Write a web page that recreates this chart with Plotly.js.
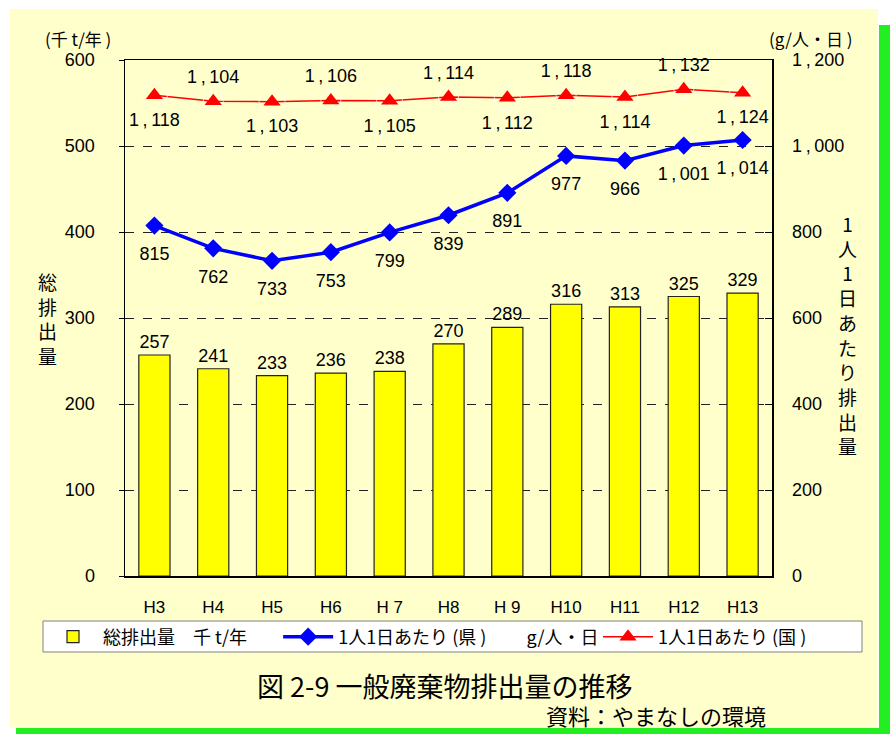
<!DOCTYPE html>
<html>
<head>
<meta charset="utf-8">
<script src="https://cdn.plot.ly/plotly-3.0.1.min.js"></script>
<style>html,body{margin:0;padding:0;background:#fff;}#chart{width:890px;height:734px;}</style>
</head>
<body>
<div id="chart"></div>
<script>
// ---- data ----
const years = ["H3", "H4", "H5", "H6", "H 7", "H8", "H 9", "H10", "H11", "H12", "H13"];
const totalKt = [257, 241, 233, 236, 238, 270, 289, 316, 313, 325, 329];
const perCapitaPref = [815, 762, 733, 753, 799, 839, 891, 977, 966, 1001, 1014];
const perCapitaNation = [1118, 1104, 1103, 1106, 1105, 1114, 1112, 1118, 1114, 1132, 1124];
const nationLabelPos = ["bottom center", "top center", "bottom center", "top center", "bottom center", "top center", "bottom center", "top center", "bottom center", "top center", "bottom center"];
const leftTicks = [0, 100, 200, 300, 400, 500, 600];
const rightTicks = [0, 200, 400, 600, 800, 1000, 1200];

// thousands formatter with the spaced comma seen in the reference
const fmt = v => {
  const s = String(v);
  return s.length > 3 ? s.slice(0, -3) + "\u2009,\u2009" + s.slice(-3) : s;
};

// ---- geometry helpers (pixel -> paper) ----
const W = 890, H = 734, L = 125, R = 772, T = 60, B = 576;
const px = X => (X - L) / (R - L);
const py = Y => (B - Y) / (B - T);

const FONT = "Liberation Sans, Arial, Noto Sans CJK JP, sans-serif";
const JFONT = "Noto Sans CJK JP, Liberation Sans, sans-serif";
const labelFont = {family: FONT, size: 18, color: "#000"};
const clear = "rgba(0,0,0,0)";

const traces = [
  {
    type: "bar", x: years, y: totalKt, name: "総排出量　千 t/年\u3000\u00a0\u00a0",
    marker: {color: "#FFFF00", line: {color: "#222222", width: 1.2}},
    width: 0.53,
    text: totalKt.map(String), textposition: "outside", cliponaxis: false,
    textfont: labelFont, hoverinfo: "skip",
    yaxis: "y", legend: "legend"
  },
  {
    type: "scatter", mode: "lines+markers", x: years, y: perCapitaPref,
    name: "1人1日あたり (県 )\u3000\u3000\u00a0g/人・日",
    line: {color: "#0000FF", width: 3.5},
    marker: {symbol: "diamond", size: 14, color: "#0000FF"},
    hoverinfo: "skip", yaxis: "y2", legend: "legend"
  },
  {
    type: "scatter", mode: "lines+markers", x: years, y: perCapitaNation,
    name: "1人1日あたり (国 )",
    line: {color: "#FF0000", width: 1.5},
    marker: {symbol: "triangle-up", size: 15, color: "#FF0000"},
    hoverinfo: "skip", yaxis: "y2", legend: "legend2"
  },
  // value labels (invisible markers give the label offset seen in the reference)
  {
    type: "scatter", mode: "markers+text", x: years, y: perCapitaPref, showlegend: false,
    marker: {size: 32, color: clear}, text: perCapitaPref.map(fmt),
    textposition: "bottom center", cliponaxis: false, textfont: labelFont,
    hoverinfo: "skip", yaxis: "y2"
  },
  {
    type: "scatter", mode: "markers+text", x: years, y: perCapitaNation, showlegend: false,
    marker: {size: nationLabelPos.map(p => p.indexOf("top") === 0 ? 20 : 26), color: clear},
    text: perCapitaNation.map(fmt),
    textposition: nationLabelPos, cliponaxis: false, textfont: labelFont,
    hoverinfo: "skip", yaxis: "y2"
  }
];

const ann = (text, X, Y, size, extra) => Object.assign({
  text: text, xref: "paper", yref: "paper", x: px(X), y: py(Y),
  xanchor: "center", yanchor: "middle", showarrow: false,
  font: {family: JFONT, size: size, color: "#000"}
}, extra || {});

const legendBase = {
  orientation: "h", xanchor: "left", y: py(637), yanchor: "middle",
  bgcolor: clear, borderwidth: 0,
  font: {family: JFONT, size: 18, color: "#000"},
  traceorder: "normal", itemwidth: 50
};

const layout = {
  width: W, height: H,
  margin: {l: L, r: W - R, t: T, b: H - B, pad: 0},
  paper_bgcolor: "#FFFFFF",
  plot_bgcolor: "#FFFFFF",
  font: {family: FONT, size: 17, color: "#000"},
  showlegend: true,
  xaxis: {
    type: "category", range: [-0.5, years.length - 0.5], autorange: false,
    showgrid: false, zeroline: false,
    showline: true, linecolor: "#000", linewidth: 1.5, mirror: true,
    ticks: "", ticklabelstandoff: 15,
    tickfont: {family: FONT, size: 17, color: "#000"}
  },
  yaxis: {
    range: [0, 600], autorange: false, tickvals: leftTicks, ticktext: leftTicks.map(String),
    showgrid: true, gridcolor: "#222", griddash: "dash", gridwidth: 1,
    zeroline: false, showline: true, linecolor: "#000", linewidth: 1.5, mirror: true,
    ticks: "outside", ticklen: 5, tickcolor: "#000", ticklabelstandoff: 20,
    tickfont: {family: FONT, size: 18, color: "#000"}
  },
  yaxis2: {
    overlaying: "y", side: "right", range: [0, 1200], autorange: false,
    tickvals: rightTicks, ticktext: rightTicks.map(fmt),
    showgrid: false, zeroline: false, showline: true, linecolor: "#000", linewidth: 1.5,
    ticks: "inside", ticklen: 7, tickcolor: "#000", ticklabelstandoff: 15,
    tickfont: {family: FONT, size: 18, color: "#000"}
  },
  legend: Object.assign({}, legendBase, {x: px(43)}),
  legend2: Object.assign({}, legendBase, {x: px(598)}),
  shapes: [
    {type: "rect", xref: "paper", yref: "paper", layer: "below",
     x0: px(10), x1: px(878), y0: py(728), y1: py(9),
     fillcolor: "#FFFFCC", line: {width: 0}},
    {type: "rect", xref: "paper", yref: "paper", layer: "below",
     x0: px(879), x1: px(891), y0: py(735), y1: py(25),
     fillcolor: "#22EE22", line: {width: 0}},
    {type: "rect", xref: "paper", yref: "paper", layer: "below",
     x0: px(16), x1: px(891), y0: py(735), y1: py(728),
     fillcolor: "#22EE22", line: {width: 0}},
    // legend frame
    {type: "rect", xref: "paper", yref: "paper", layer: "below",
     x0: px(43), x1: px(862), y0: py(652), y1: py(621),
     fillcolor: "#FFFFFF", line: {color: "#808080", width: 1}}
  ],
  annotations: [
    ann("(千 t/年 )", 78, 39, 17),
    ann("(g/人・日 )", 810, 39, 17),
    ann("総<br>排<br>出<br>量", 47, 318, 19),
    ann("1<br>人<br>1<br>日<br>あ<br>た<br>り<br>排<br>出<br>量", 847, 334, 19),
    ann("図 2-9 一般廃棄物排出量の推移", 444, 685, 27),
    ann("資料：やまなしの環境", 768, 715, 22, {xanchor: "right"})
  ]
};

Plotly.newPlot("chart", traces, layout, {displayModeBar: false, staticPlot: true});
</script>
</body>
</html>
